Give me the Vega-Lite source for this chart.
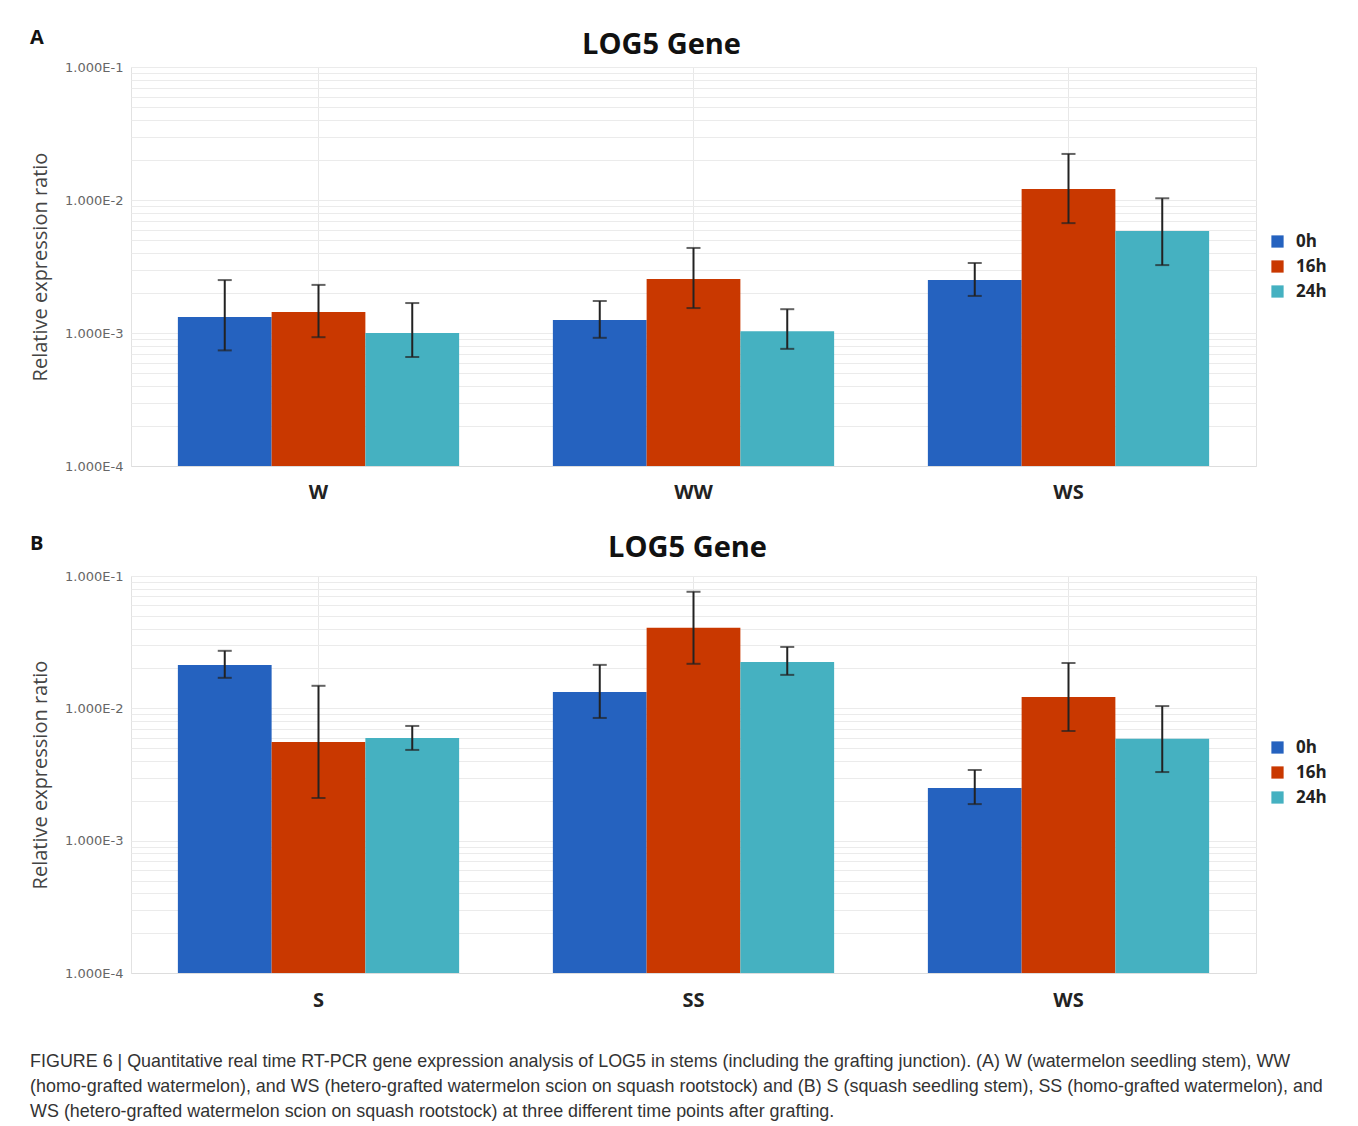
{
  "$schema": "https://vega.github.io/schema/vega-lite/v6.json",
  "background": "white",
  "padding": {"left": 30, "top": 27, "right": 10, "bottom": 5},
  "config": {
    "view": {"stroke": "#e2e2e2"},
    "font": "Open Sans"
  },
  "datasets": {
    "a": [
      {"group": "W", "time": "0h", "value": 0.00132, "lo": 0.00074, "hi": 0.0025},
      {"group": "W", "time": "16h", "value": 0.00144, "lo": 0.00093, "hi": 0.0023},
      {"group": "W", "time": "24h", "value": 0.0010, "lo": 0.00066, "hi": 0.00168},
      {"group": "WW", "time": "0h", "value": 0.00125, "lo": 0.00092, "hi": 0.00174},
      {"group": "WW", "time": "16h", "value": 0.00255, "lo": 0.00154, "hi": 0.00436},
      {"group": "WW", "time": "24h", "value": 0.00103, "lo": 0.00076, "hi": 0.00151},
      {"group": "WS", "time": "0h", "value": 0.0025, "lo": 0.0019, "hi": 0.00336},
      {"group": "WS", "time": "16h", "value": 0.0121, "lo": 0.0067, "hi": 0.0222},
      {"group": "WS", "time": "24h", "value": 0.00585, "lo": 0.00324, "hi": 0.0103}
    ],
    "b": [
      {"group": "S", "time": "0h", "value": 0.0213, "lo": 0.017, "hi": 0.0272},
      {"group": "S", "time": "16h", "value": 0.00557, "lo": 0.0021, "hi": 0.0148},
      {"group": "S", "time": "24h", "value": 0.00597, "lo": 0.00485, "hi": 0.00736},
      {"group": "SS", "time": "0h", "value": 0.0133, "lo": 0.00846, "hi": 0.0213},
      {"group": "SS", "time": "16h", "value": 0.0406, "lo": 0.0217, "hi": 0.076},
      {"group": "SS", "time": "24h", "value": 0.0224, "lo": 0.0179, "hi": 0.0291},
      {"group": "WS", "time": "0h", "value": 0.0025, "lo": 0.00189, "hi": 0.00342},
      {"group": "WS", "time": "16h", "value": 0.0122, "lo": 0.00674, "hi": 0.022},
      {"group": "WS", "time": "24h", "value": 0.0059, "lo": 0.0033, "hi": 0.0104}
    ]
  },
  "title": {
    "text": [
      "FIGURE 6 | Quantitative real time RT-PCR gene expression analysis of LOG5 in stems (including the grafting junction). (A) W (watermelon seedling stem), WW",
      "(homo-grafted watermelon), and WS (hetero-grafted watermelon scion on squash rootstock) and (B) S (squash seedling stem), SS (homo-grafted watermelon), and",
      "WS (hetero-grafted watermelon scion on squash rootstock) at three different time points after grafting."
    ],
    "orient": "bottom",
    "anchor": "start",
    "frame": "bounds",
    "font": "Liberation Sans",
    "fontSize": 17.9,
    "fontWeight": "normal",
    "color": "#333333",
    "lineHeight": 25,
    "offset": 42
  },
  "resolve": {"scale": {"color": "independent", "y": "independent", "x": "independent"}, "legend": {"color": "independent"}},
  "spacing": 30,
  "vconcat": [
    {
      "title": {"text": "A", "anchor": "start", "frame": "bounds", "fontSize": 20, "fontWeight": "bold", "color": "#111111", "font": "Open Sans", "dy": 17, "offset": 0},
      "resolve": {"scale": {"color": "independent"}, "legend": {"color": "independent"}},
      "vconcat": [
        {
          "title": {"text": "LOG5 Gene", "anchor": "middle", "frame": "group", "dx": -32, "fontSize": 29, "fontWeight": "bold", "color": "#111111", "font": "Open Sans", "offset": 1},
          "width": 1125,
          "height": 399,
          "data": {"name": "a"},
          "encoding": {
            "x": {"field": "group", "type": "nominal", "sort": ["W", "WW", "WS"],
              "scale": {"paddingInner": 0.25, "paddingOuter": 0.125},
              "axis": {"title": null, "labelAngle": 0, "labelFontSize": 20, "labelFontWeight": "bold", "labelColor": "#222222", "labelFont": "Open Sans", "ticks": false, "domain": true, "domainColor": "#dddddd", "labelPadding": 16, "grid": true, "gridColor": "#e8e8e8"}},
            "xOffset": {"field": "time", "type": "nominal", "sort": ["0h", "16h", "24h"]}
          },
          "layer": [
            {
              "mark": {"type": "bar"},
              "encoding": {
                "y": {"field": "value", "type": "quantitative",
                  "scale": {"type": "log", "domain": [0.0001, 0.1]},
                  "axis": {"title": "Relative expression ratio", "titleFontSize": 20, "titleFontWeight": "normal", "titleColor": "#444444", "titleFont": "Open Sans", "titlePadding": 14,
                    "values": [0.0001, 0.0002, 0.0003, 0.0004, 0.0005, 0.0006, 0.0007, 0.0008, 0.0009, 0.001, 0.002, 0.003, 0.004, 0.005, 0.006, 0.007, 0.008, 0.009, 0.01, 0.02, 0.03, 0.04, 0.05, 0.06, 0.07, 0.08, 0.09, 0.1],
                    "labelExpr": "abs(log(datum.value)/LN10 - round(log(datum.value)/LN10)) < 0.01 ? '1.000E' + round(log(datum.value)/LN10) : ''",
                    "labelOverlap": false, "labelFont": "DejaVu Sans", "labelFontSize": 13, "labelColor": "#666666", "labelPadding": 8,
                    "ticks": false, "domain": false, "grid": true, "gridColor": "#ebebeb"}},
                "y2": {"datum": 0.0001},
                "color": {"field": "time", "type": "nominal", "sort": ["0h", "16h", "24h"],
                  "scale": {"domain": ["0h", "16h", "24h"], "range": ["#2562bf", "#c93800", "#45b1c1"]},
                  "legend": {"title": null, "orient": "none", "legendX": 1138, "legendY": 166, "symbolType": "square", "symbolSize": 150, "symbolStrokeWidth": 0, "labelFontSize": 17, "labelFont": "Open Sans", "labelFontWeight": "bold", "labelColor": "#222222", "rowPadding": 7, "labelOffset": 10}}
              }
            },
            {
              "mark": {"type": "rule", "color": "#222222", "strokeWidth": 2},
              "encoding": {"y": {"field": "lo", "type": "quantitative"}, "y2": {"field": "hi"}}
            },
            {
              "mark": {"type": "tick", "color": "#222222", "thickness": 2, "size": 14},
              "encoding": {"y": {"field": "hi", "type": "quantitative"}}
            },
            {
              "mark": {"type": "tick", "color": "#222222", "thickness": 2, "size": 14},
              "encoding": {"y": {"field": "lo", "type": "quantitative"}}
            }
          ]
        }
      ]
    },
    {
      "title": {"text": "B", "anchor": "start", "frame": "bounds", "fontSize": 20, "fontWeight": "bold", "color": "#111111", "font": "Open Sans", "dy": 20, "offset": 0},
      "resolve": {"scale": {"color": "independent"}, "legend": {"color": "independent"}},
      "vconcat": [
        {
          "title": {"text": "LOG5 Gene", "anchor": "middle", "frame": "group", "dx": -6, "fontSize": 29, "fontWeight": "bold", "color": "#111111", "font": "Open Sans", "offset": 7},
          "width": 1125,
          "height": 397,
          "data": {"name": "b"},
          "encoding": {
            "x": {"field": "group", "type": "nominal", "sort": ["S", "SS", "WS"],
              "scale": {"paddingInner": 0.25, "paddingOuter": 0.125},
              "axis": {"title": null, "labelAngle": 0, "labelFontSize": 20, "labelFontWeight": "bold", "labelColor": "#222222", "labelFont": "Open Sans", "ticks": false, "domain": true, "domainColor": "#dddddd", "labelPadding": 17, "grid": true, "gridColor": "#e8e8e8"}},
            "xOffset": {"field": "time", "type": "nominal", "sort": ["0h", "16h", "24h"]}
          },
          "layer": [
            {
              "mark": {"type": "bar"},
              "encoding": {
                "y": {"field": "value", "type": "quantitative",
                  "scale": {"type": "log", "domain": [0.0001, 0.1]},
                  "axis": {"title": "Relative expression ratio", "titleFontSize": 20, "titleFontWeight": "normal", "titleColor": "#444444", "titleFont": "Open Sans", "titlePadding": 14,
                    "values": [0.0001, 0.0002, 0.0003, 0.0004, 0.0005, 0.0006, 0.0007, 0.0008, 0.0009, 0.001, 0.002, 0.003, 0.004, 0.005, 0.006, 0.007, 0.008, 0.009, 0.01, 0.02, 0.03, 0.04, 0.05, 0.06, 0.07, 0.08, 0.09, 0.1],
                    "labelExpr": "abs(log(datum.value)/LN10 - round(log(datum.value)/LN10)) < 0.01 ? '1.000E' + round(log(datum.value)/LN10) : ''",
                    "labelOverlap": false, "labelFont": "DejaVu Sans", "labelFontSize": 13, "labelColor": "#666666", "labelPadding": 8,
                    "ticks": false, "domain": false, "grid": true, "gridColor": "#ebebeb"}},
                "y2": {"datum": 0.0001},
                "color": {"field": "time", "type": "nominal", "sort": ["0h", "16h", "24h"],
                  "scale": {"domain": ["0h", "16h", "24h"], "range": ["#2562bf", "#c93800", "#45b1c1"]},
                  "legend": {"title": null, "orient": "none", "legendX": 1138, "legendY": 163, "symbolType": "square", "symbolSize": 150, "symbolStrokeWidth": 0, "labelFontSize": 17, "labelFont": "Open Sans", "labelFontWeight": "bold", "labelColor": "#222222", "rowPadding": 7, "labelOffset": 10}}
              }
            },
            {
              "mark": {"type": "rule", "color": "#222222", "strokeWidth": 2},
              "encoding": {"y": {"field": "lo", "type": "quantitative"}, "y2": {"field": "hi"}}
            },
            {
              "mark": {"type": "tick", "color": "#222222", "thickness": 2, "size": 14},
              "encoding": {"y": {"field": "hi", "type": "quantitative"}}
            },
            {
              "mark": {"type": "tick", "color": "#222222", "thickness": 2, "size": 14},
              "encoding": {"y": {"field": "lo", "type": "quantitative"}}
            }
          ]
        }
      ]
    }
  ]
}
